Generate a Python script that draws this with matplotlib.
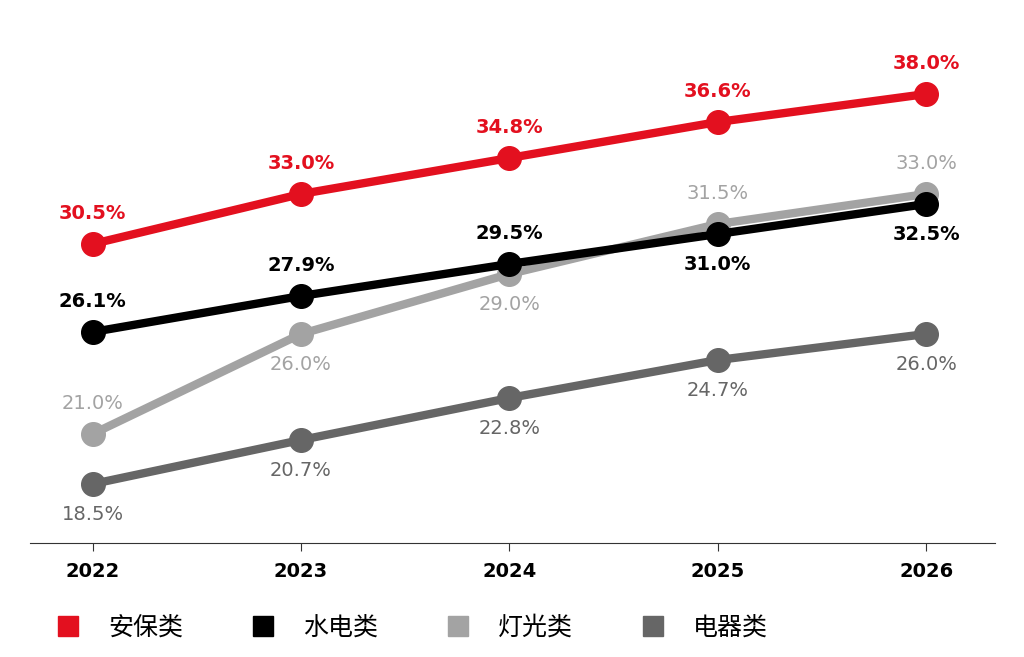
import matplotlib
matplotlib.use("Agg")
import matplotlib.pyplot as plt
from matplotlib.lines import Line2D

plt.rcParams['font.family'] = ['Noto Sans CJK SC', 'DejaVu Sans']

years = ["2022", "2023", "2024", "2025", "2026"]
names = ["安保类", "水电类", "灯光类", "电器类"]
anbao = [30.5, 33.0, 34.8, 36.6, 38.0]
shuidian = [26.1, 27.9, 29.5, 31.0, 32.5]
dengguang = [21.0, 26.0, 29.0, 31.5, 33.0]
dianqi = [18.5, 20.7, 22.8, 24.7, 26.0]
colors = ["#e3101f", "#000000", "#a3a3a3", "#666666"]
# label placement: +1 above, -1 below
places = [[1, 1, 1, 1, 1], [1, 1, 1, -1, -1], [1, -1, -1, 1, 1], [-1, -1, -1, -1, -1]]

fig = plt.figure(figsize=(10.24, 6.57), dpi=100)
ax = fig.add_axes([30/1024, 114/657, 965/1024, 543/657])
x = list(range(len(years)))
series = [anbao, shuidian, dengguang, dianqi]
order = [3, 2, 1, 0]
for i in order:
    ax.plot(x, series[i], color=colors[i], lw=6, marker='o', ms=17, zorder=3 + (3 - i), solid_capstyle='round')
for i, s in enumerate(series):
    for xi, v, p in zip(x, s, places[i]):
        ax.annotate(f"{v:.1f}%", (xi, v), xytext=(0, 22 * p), textcoords='offset points',
                    ha='center', va='center', fontsize=14, color=colors[i],
                    fontweight='bold' if i < 2 else 'normal', family='DejaVu Sans')
ax.set_xlim(-0.30, 4.33)
ax.set_ylim(15.55, 42.7)
for sp in ['top', 'right', 'left']:
    ax.spines[sp].set_visible(False)
ax.spines['bottom'].set_color('#333333')
ax.set_yticks([])
ax.set_xticks(x)
ax.set_xticklabels(years, fontsize=14, fontweight='bold', family='DejaVu Sans')
ax.tick_params(axis='x', length=6, pad=8, color='#333333')

handles = [Line2D([], [], marker='s', ls='', color=c, ms=14) for c in colors]
fig.legend(handles, names, loc='lower left', bbox_to_anchor=(0.02, -0.01), ncol=4,
           frameon=False, fontsize=18, handletextpad=0.6, columnspacing=2.2)
fig.savefig("out.png")
